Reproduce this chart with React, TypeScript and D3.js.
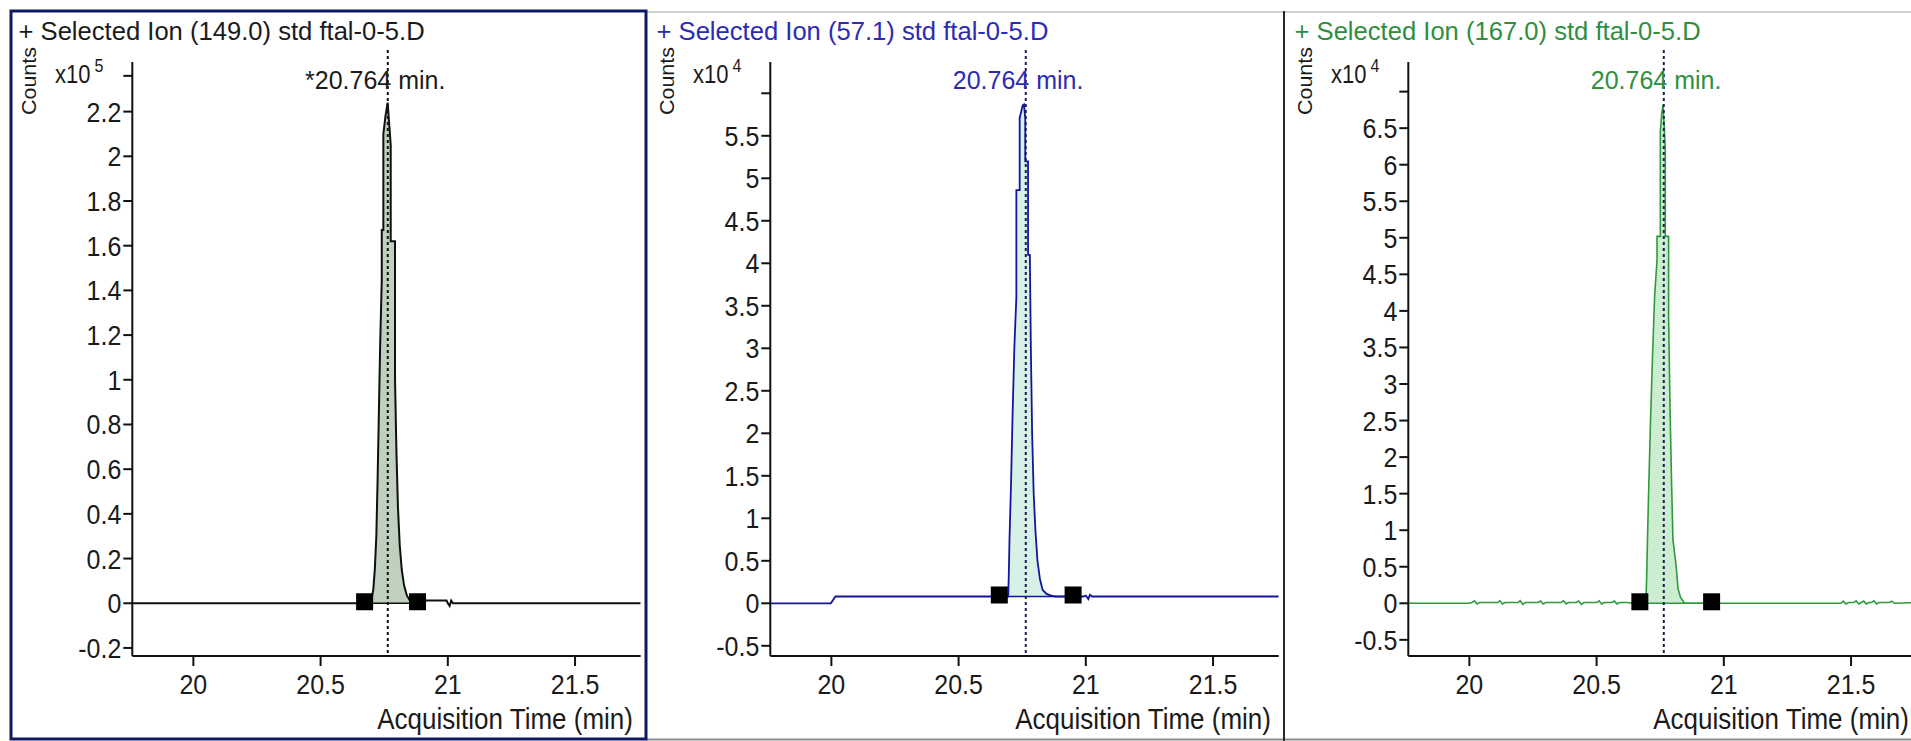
import * as d3 from 'd3';

type Pt = [number, number];

const FONT = '"Liberation Sans", Arial, Helvetica, sans-serif';
const W = 1911;
const H = 741;

// header info
const ionMasses = ['149.0', '57.1', '167.0'];
const dataFile = 'std ftal-0-5.D';
const exponents = ['5', '4', '4'];
const peakRT = 20.764;
const rtPrefixes = ['*', '', ''];

// axes
const timeTicks = [20, 20.5, 21, 21.5];
const timeRange: Pt = [19.76, 21.758];
const countRanges: Pt[] = [[-0.236, 2.422], [-0.62, 6.368], [-0.721, 7.405]];
const countTicks149 = [-0.2, 0, 0.2, 0.4, 0.6, 0.8, 1, 1.2, 1.4, 1.6, 1.8, 2, 2.2];
const countTicks57 = [-0.5, 0, 0.5, 1, 1.5, 2, 2.5, 3, 3.5, 4, 4.5, 5, 5.5];
const countTicks167 = [-0.5, 0, 0.5, 1, 1.5, 2, 2.5, 3, 3.5, 4, 4.5, 5, 5.5, 6, 6.5];
const topTicks = [2.36, 6, 7];

// integration markers (time, counts)
const markers149: Pt[] = [[20.673, 0], [20.881, 0]];
const markers57: Pt[] = [[20.66, 0.08], [20.95, 0.08]];
const markers167: Pt[] = [[20.67, 0], [20.952, 0]];

// extracted ion traces (time min, counts x10^n)
const eic149: Pt[] = [
  [19.76, 0], [20.69, 0], [20.7, 0.02], [20.707, 0.06], [20.713, 0.15], [20.719, 0.3],
  [20.724, 0.55], [20.729, 0.85], [20.734, 1.15], [20.7404, 1.45], [20.7404, 1.67],
  [20.7466, 1.67], [20.7466, 2.1], [20.755, 2.18], [20.7635, 2.24], [20.7756, 2.05],
  [20.7756, 1.62], [20.7925, 1.62], [20.7925, 1.0], [20.798, 0.68], [20.804, 0.43],
  [20.811, 0.26], [20.819, 0.15], [20.828, 0.08], [20.839, 0.035], [20.852, 0.01],
  [20.866, 0], [20.895, 0], [20.9, 0.012], [20.995, 0.012], [21.0, 0], [21.007, -0.012],
  [21.013, 0.012], [21.02, 0], [21.758, 0],
];

const eic57: Pt[] = [
  [19.76, 0], [19.998, 0], [20.016, 0.08], [20.695, 0.08], [20.697, 0.3], [20.7, 0.75],
  [20.706, 1.4], [20.712, 2.2], [20.719, 3.0], [20.727, 3.6], [20.727, 4.86], [20.74, 4.86],
  [20.74, 5.71], [20.752, 5.86], [20.757, 5.87], [20.762, 5.7], [20.762, 5.2], [20.773, 5.2],
  [20.773, 4.1], [20.78, 4.1], [20.784, 3.0], [20.789, 2.0], [20.795, 1.3], [20.802, 0.85],
  [20.81, 0.5], [20.82, 0.28], [20.83, 0.16], [20.845, 0.11], [20.865, 0.09], [20.88, 0.08],
  [20.99, 0.08], [21.0, 0.09], [21.01, 0.05], [21.016, 0.1], [21.024, 0.08], [21.758, 0.08],
];

const eic167: Pt[] = [
  [19.76, 0], [20.0, 0], [20.01, 0.01], [20.02, 0.035], [20.03, -0.01], [20.04, 0.01],
  [20.11, 0.01], [20.12, 0.035], [20.13, -0.01], [20.14, 0.01], [20.19, 0.01], [20.2, 0.035],
  [20.21, -0.015], [20.22, 0.01], [20.27, 0.01], [20.28, 0.03], [20.29, -0.01], [20.3, 0.01],
  [20.36, 0.01], [20.37, 0.035], [20.38, -0.01], [20.39, 0.01], [20.42, 0.01], [20.43, 0.03],
  [20.44, -0.015], [20.45, 0.01], [20.5, 0.01], [20.51, 0.035], [20.52, -0.01], [20.53, 0.01],
  [20.56, 0.01], [20.57, 0.03], [20.58, -0.01], [20.59, 0.01], [20.62, 0.01], [20.64, 0],
  [20.694, 0], [20.697, 0.4], [20.7, 0.87], [20.705, 1.6], [20.712, 2.5], [20.72, 3.4],
  [20.728, 4.2], [20.7375, 4.7], [20.7375, 5.02], [20.7505, 5.02], [20.7505, 6.45],
  [20.756, 6.7], [20.761, 6.82], [20.766, 6.5], [20.77, 6.2], [20.77, 5.02], [20.783, 5.02],
  [20.783, 3.9], [20.789, 2.6], [20.795, 1.6], [20.8, 0.87], [20.813, 0.5], [20.82, 0.2],
  [20.83, 0.08], [20.846, 0], [21.46, 0], [21.47, 0.03], [21.48, -0.01], [21.49, 0.01],
  [21.51, 0.01], [21.52, 0.035], [21.53, -0.01], [21.54, 0.01], [21.55, 0.03], [21.56, -0.01],
  [21.57, 0.01], [21.58, 0.01], [21.59, 0.035], [21.6, -0.01], [21.61, 0.01], [21.65, 0.01],
  [21.66, 0.03], [21.67, 0], [21.758, 0.01],
];

const traces = [eic149, eic57, eic167];
const markerSets = [markers149, markers57, markers167];
const tickSets = [countTicks149, countTicks57, countTicks167];

// look
const titleColors = ['#1b1b1b', '#2b2bb5', '#2f8f3f'];
const traceColors = ['#101010', '#15159c', '#2e9a3b'];
const fillColors = ['#bfd0be', '#d8f1e6', '#cdedd0'];
const traceWidths = [2, 1.8, 1.6];
const dashColors = ['#111111', '#1b1b5a', '#1b1b5a'];

const PANEL_X = [0, 638, 1276];
const AX_L = 132.3;
const AX_R = 640.7;
const AX_T = 62;
const AX_B = 656;
const TXT = '#1a1a1a';
const STRETCH = 1.12; // screenshot glyphs are a little taller than wide

// text stretched vertically around its baseline
function TallText({ x, y, sy = STRETCH, children, ...rest }: any) {
  return (
    <text transform={`translate(${x},${y}) scale(1,${sy})`} fontFamily={FONT} {...rest}>
      {children}
    </text>
  );
}

function Chromatogram({ i }: { i: number }) {
  const x = d3.scaleLinear().domain(timeRange).range([AX_L, AX_R]);
  const y = d3.scaleLinear().domain(countRanges[i]).range([AX_B, AX_T]);
  const data = traces[i];
  const [m1, m2] = markerSets[i];

  const base = (t: number) => m1[1] + ((m2[1] - m1[1]) * (t - m1[0])) / (m2[0] - m1[0]);
  const peakPts: Pt[] = [
    [m1[0], m1[1]],
    ...data.filter((d) => d[0] > m1[0] && d[0] < m2[0]),
    [m2[0], m2[1]],
  ];

  const line = d3.line<Pt>().x((d) => x(d[0])).y((d) => y(d[1]));
  const area = d3
    .area<Pt>()
    .x((d) => x(d[0]))
    .y0((d) => y(base(d[0])))
    .y1((d) => y(Math.max(d[1], base(d[0]))));

  const rx = x(peakRT);
  const clipId = `plot-clip-${i}`;

  return (
    <g transform={`translate(${PANEL_X[i]},0)`}>
      <defs>
        <clipPath id={clipId}>
          <rect x={AX_L} y={AX_T - 20} width={AX_R - AX_L} height={AX_B - AX_T + 20} />
        </clipPath>
      </defs>

      <text x={18.5} y={40} fontSize={25.6} fill={titleColors[i]} fontFamily={FONT}>
        {`+ Selected Ion (${ionMasses[i]}) ${dataFile}`}
      </text>

      {/* y axis title + exponent */}
      <text
        transform='translate(36,81) rotate(-90)'
        textAnchor='middle'
        fontSize={21}
        textLength={68}
        lengthAdjust='spacingAndGlyphs'
        fill={TXT}
        fontFamily={FONT}>
        Counts
      </text>
      <TallText x={55} y={83} sy={1.15} fontSize={22} fill={TXT}>
        x10
        <tspan fontSize={16} dx={4} dy={-10}>
          {exponents[i]}
        </tspan>
      </TallText>

      {/* peak fill + baseline */}
      <g clipPath={`url(#${clipId})`}>
        <path d={area(peakPts) ?? ''} fill={fillColors[i]} stroke='none' />
        <line
          x1={x(m1[0])}
          x2={x(m2[0])}
          y1={y(m1[1])}
          y2={y(m2[1])}
          stroke={traceColors[i]}
          strokeWidth={1.4}
        />
        <path
          d={line(data) ?? ''}
          fill='none'
          stroke={traceColors[i]}
          strokeWidth={traceWidths[i]}
          strokeLinejoin='miter'
        />
      </g>

      {/* retention time marker */}
      <line
        x1={rx}
        x2={rx}
        y1={50}
        y2={AX_B}
        stroke={dashColors[i]}
        strokeWidth={2}
        strokeDasharray='3,3'
      />
      {rtPrefixes[i] && (
        <text x={rx - 73} y={89} textAnchor='end' fontSize={25} fill={titleColors[i]} fontFamily={FONT}>
          {rtPrefixes[i]}
        </text>
      )}
      <text x={rx - 73} y={89} fontSize={25} fill={titleColors[i]} fontFamily={FONT}>
        {`${peakRT.toFixed(3)} min.`}
      </text>

      {markerSets[i].map((m, k) => (
        <rect key={k} x={x(m[0]) - 8.5} y={y(m[1]) - 10} width={17} height={17} fill='#000' />
      ))}

      {/* axes */}
      <line x1={AX_L} x2={AX_L} y1={AX_T} y2={AX_B} stroke='#111' strokeWidth={2} />
      <line x1={AX_L} x2={AX_R} y1={AX_B} y2={AX_B} stroke='#111' strokeWidth={2} />
      <line x1={AX_L - 9} x2={AX_L} y1={y(topTicks[i])} y2={y(topTicks[i])} stroke='#111' strokeWidth={2} />
      {tickSets[i].map((v) => (
        <g key={v}>
          <line x1={AX_L - 9} x2={AX_L} y1={y(v)} y2={y(v)} stroke='#111' strokeWidth={2} />
          <TallText x={AX_L - 11} y={y(v) + 10} textAnchor='end' fontSize={25} fill={TXT}>
            {String(v)}
          </TallText>
        </g>
      ))}
      {timeTicks.map((t) => (
        <g key={t}>
          <line x1={x(t)} x2={x(t)} y1={AX_B} y2={AX_B + 10} stroke='#111' strokeWidth={2} />
          <TallText x={x(t)} y={694} textAnchor='middle' fontSize={25} fill={TXT}>
            {String(t)}
          </TallText>
        </g>
      ))}
      <TallText x={633} y={729} sy={1.1} textAnchor='end' fontSize={26} fill={TXT}>
        Acquisition Time (min)
      </TallText>
    </g>
  );
}

export default function App() {
  return (
    <svg
      width={W}
      height={H}
      style={{ position: 'absolute', left: 0, top: 0, background: '#fff' }}>
      <rect width={W} height={H} fill='#fff' />
      {/* panel frames */}
      <line x1={646} x2={W} y1={12} y2={12} stroke='#cfcfcf' strokeWidth={2} />
      <line x1={646} x2={W} y1={739.5} y2={739.5} stroke='#8c8c8c' strokeWidth={2} />
      <line x1={1284} x2={1284} y1={11} y2={H} stroke='#2a2a2a' strokeWidth={2} />
      {[0, 1, 2].map((i) => (
        <Chromatogram key={i} i={i} />
      ))}
      <rect x={11} y={11} width={635} height={728} fill='none' stroke='#0c1a63' strokeWidth={3} />
    </svg>
  );
}
